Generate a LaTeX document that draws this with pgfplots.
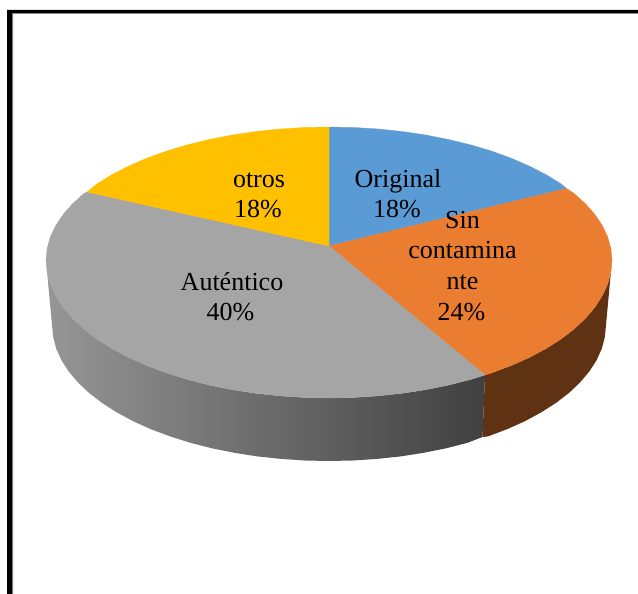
\documentclass[border=0pt]{standalone}
\usepackage{pgfplots}
\pgfplotsset{compat=1.18}
\usepackage{fontspec}
\setmainfont{Liberation Serif}
\definecolor{sliceblue}{HTML}{5B9BD5}
\definecolor{sliceorange}{HTML}{EB7D31}
\definecolor{slicegray}{HTML}{A5A5A5}
\definecolor{sliceyellow}{HTML}{FFC000}
\definecolor{wallbrown}{HTML}{5F3214}
\definecolor{wallgrayL}{HTML}{969696}
\definecolor{wallgrayR}{HTML}{404040}
\newcommand{\piefont}{\fontsize{26}{30.5}\selectfont}
\newcommand{\pielabel}[3]{\node[anchor=base,inner sep=0pt,text=black] at (axis cs:#1,#2) {\piefont #3};}
\begin{document}
\begin{tikzpicture}
\path[use as bounding box] (0,0) rectangle (638pt,594pt);
\begin{axis}[
  at={(0,0)}, anchor=south west,
  scale only axis,
  width=638pt, height=594pt,
  xmin=0, xmax=638, ymin=0, ymax=594,
  y dir=reverse,
  axis lines=none,
  no markers,
]
% outer frame: left and top bars
\addplot[fill=gray!90,draw=none] coordinates {(12,13) (638,13) (638,14) (13,14) (13,594) (12,594)};
\addplot[fill=black,draw=none] coordinates {(7,10) (638,10) (638,13) (12,13) (12,594) (7,594)};

% side wall, Autentico (gradient left to right)
\addplot[left color=wallgrayL,right color=wallgrayR,draw=none] coordinates {
(46,260)(47.1,272)(50.3,284)(55.7,295.7)(63.1,307.2)(72.5,318.3)(83.9,329)(97.2,339.2)(112.2,348.7)(128.9,357.6)(147.1,365.7)(166.7,373)(187.5,379.5)(209.4,385.1)(232.2,389.7)(255.8,393.3)(279.9,395.9)(304.3,397.5)(329,398)(353.7,397.5)(378.1,395.9)(402.2,393.3)(425.8,389.7)(448.6,385.1)(470.5,379.5)(485,375)
(482.5,437)(467.5,442.8)(446.1,448.3)(423.7,452.8)(400.7,456.4)(377.1,458.9)(353.2,460.5)(329,461)(304.8,460.5)(280.9,458.9)(257.3,456.4)(234.3,452.8)(211.9,448.3)(190.5,442.8)(170.1,436.4)(150.9,429.2)(133.1,421.2)(116.8,412.4)(102.1,403)(89.1,393)(78,382.5)(68.7,371.5)(61.4,360.2)(56.2,348.6)(53.1,336.9)(52,325)
};
% side wall, Sin contaminante
\addplot[fill=wallbrown,draw=none] coordinates {
(485,375)(491.3,373)(510.9,365.7)(529.1,357.6)(545.8,348.7)(560.8,339.2)(574.1,329)(585.5,318.3)(594.9,307.2)(602.3,295.7)(607.7,284)(610.9,272)(612,260)
(606,325)(604.9,336.9)(601.8,348.6)(596.6,360.2)(589.3,371.5)(580,382.5)(568.9,393)(555.9,403)(541.2,412.4)(524.9,421.2)(507.1,429.2)(487.9,436.4)(482.5,437)
};

% top face: Original
\addplot[fill=sliceblue,draw=sliceblue,line width=0.3pt] coordinates {
(329,246)(329,127)(353.7,127.5)(378.1,129)(402.2,131.5)(425.8,135)(448.6,139.5)(470.5,144.8)(491.3,151)(510.9,158.1)(529.1,166)(545.8,174.5)(560.8,183.7)(566.5,188.5)
} --cycle;
% top face: Sin contaminante
\addplot[fill=sliceorange,draw=sliceorange,line width=0.3pt] coordinates {
(329,246)(566.5,188.5)(574.1,193.5)(585.5,203.8)(594.9,214.5)(602.3,225.6)(607.7,236.9)(610.9,248.4)(612,260)(610.9,272)(607.7,284)(602.3,295.7)(594.9,307.2)(585.5,318.3)(574.1,329)(560.8,339.2)(545.8,348.7)(529.1,357.6)(510.9,365.7)(491.3,373)(485,375)
} --cycle;
% top face: Autentico
\addplot[fill=slicegray,draw=slicegray,line width=0.3pt] coordinates {
(329,246)(485,375)(470.5,379.5)(448.6,385.1)(425.8,389.7)(402.2,393.3)(378.1,395.9)(353.7,397.5)(329,398)(304.3,397.5)(279.9,395.9)(255.8,393.3)(232.2,389.7)(209.4,385.1)(187.5,379.5)(166.7,373)(147.1,365.7)(128.9,357.6)(112.2,348.7)(97.2,339.2)(83.9,329)(72.5,318.3)(63.1,307.2)(55.7,295.7)(50.3,284)(47.1,272)(46,260)(47.1,248.4)(50.3,236.9)(55.7,225.6)(63.1,214.5)(72.5,203.8)(83.9,193.5)(87,192)
} --cycle;
% top face: otros
\addplot[fill=sliceyellow,draw=sliceyellow,line width=0.3pt] coordinates {
(329,246)(87,192)(97.2,183.7)(112.2,174.5)(128.9,166)(147.1,158.1)(166.7,151)(187.5,144.8)(209.4,139.5)(232.2,135)(255.8,131.5)(279.9,129)(304.3,127.5)(329,127)
} --cycle;

% slice labels
\pielabel{259}{187}{otros}
\pielabel{258}{217}{18\%}
\pielabel{398}{187}{Original}
\pielabel{397}{217}{18\%}
\pielabel{462.5}{228}{Sin}
\pielabel{462.5}{258}{contamina}
\pielabel{462.5}{289}{nte}
\pielabel{461.5}{320}{24\%}
\pielabel{232}{290}{Auténtico}
\pielabel{230.5}{320}{40\%}
\end{axis}
\end{tikzpicture}
\end{document}
